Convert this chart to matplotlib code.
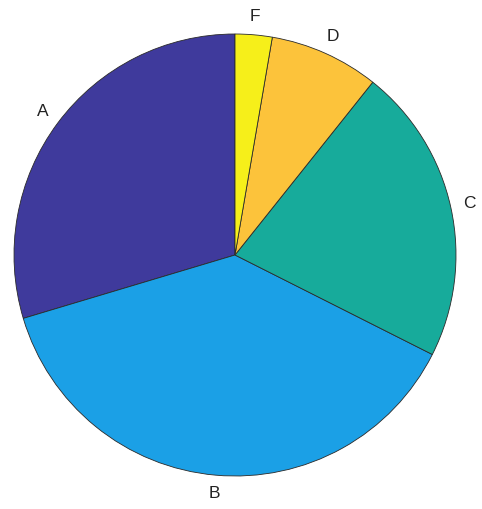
import matplotlib
matplotlib.use("Agg")
import matplotlib.pyplot as plt

# grade shares (percent)
grades = ['A', 'B', 'C', 'D', 'F']
shares = [29.6, 37.9, 21.7, 8.0, 2.7]
colors = ['#3F3A9C', '#1BA0E6', '#17AB9B', '#FCC33B', '#F6EF1A']

fig = plt.figure(figsize=(4.82, 5.09), dpi=100)
# pie centre at about (235, 255) px, radius 221 px
ax = fig.add_axes([14 / 482, 33 / 509, 442 / 482, 442 / 509])

wedges, texts = ax.pie(shares, labels=grades, colors=colors,
                       startangle=90, counterclock=True,
                       labeldistance=1.085,
                       wedgeprops=dict(edgecolor='#2a2a2a', linewidth=0.6),
                       textprops=dict(family='Liberation Sans', fontsize=12.5,
                                      color='#222222'))
for t in texts:
    t.set_horizontalalignment('center')
    t.set_verticalalignment('center')

ax.set_xlim(-1, 1)
ax.set_ylim(-1, 1)
ax.set_aspect('auto')
ax.axis('off')

fig.savefig('out.png', dpi=100)
